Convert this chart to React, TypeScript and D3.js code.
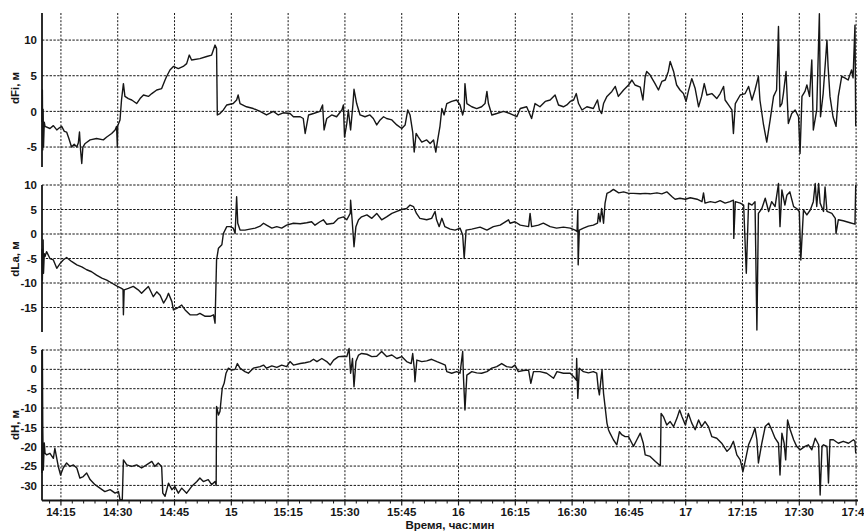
import React from 'react';
import * as d3 from 'd3';

// Time axis: minutes after 14:10
const START_LABEL = '14:10';
const timeTickLabels = ['14:15', '14:30', '14:45', '15', '15:15', '15:30', '15:45', '16', '16:15', '16:30', '16:45', '17', '17:15', '17:30', '17:45'];
const xAxisTitle = 'Время, час:мин';

const dfiTicks = [10, 5, 0, -5];
const dlaTicks = [10, 5, 0, -5, -10, -15];
const dhTicks = [5, 0, -5, -10, -15, -20, -25, -30];

const panelLabels = ['dFi, м', 'dLa, м', 'dH, м'];

// [minutes after 14:10, value]
const dfiData: [number, number][] = [
  [0.0, -1.5], [0.1, 3.0], [0.2, -5.4], [0.3, 0.3], [0.4, -5.0], [0.6, -1.5], [0.8, -2.1], [2.1, -2.4], [3.0, -2.0], [3.9, -2.6],
  [4.6, -2.3], [5.2, -2.1], [5.9, -2.8], [6.5, -2.9], [7.1, -3.8], [7.8, -5.0], [8.5, -4.6], [9.2, -5.0], [9.6, -4.4], [9.9, -2.9],
  [10.2, -5.5], [10.5, -7.3], [10.8, -5.0], [11.4, -4.5], [12.7, -4.0], [14.4, -3.8], [16.2, -4.0], [17.1, -3.6], [18.4, -3.1], [19.3, -2.6],
  [19.7, -2.1], [19.9, -5.0], [20.0, -2.0], [20.6, -1.2], [21.0, 1.6], [21.5, 3.9], [21.9, 2.1], [22.8, 1.8], [23.7, 1.6], [25.0, 1.1],
  [25.9, 1.8], [26.8, 2.3], [28.1, 2.1], [29.0, 2.5], [30.3, 3.0], [31.6, 3.2], [32.5, 4.4], [32.9, 4.9], [33.8, 5.8], [34.7, 6.3],
  [36.0, 6.0], [37.3, 6.3], [38.2, 6.7], [38.9, 7.9], [39.5, 7.2], [41.7, 7.4], [43.5, 7.7], [44.8, 7.9], [45.7, 9.3], [46.1, 8.8],
  [46.3, -0.5], [47.0, -0.3], [47.9, 0.2], [48.8, 0.9], [50.5, 1.1], [51.4, 1.6], [51.8, 2.3], [52.3, 1.1], [54.0, 0.65], [55.8, 0.4],
  [57.6, 0.0], [59.3, -0.5], [61.1, 0.0], [62.4, -0.5], [63.7, -0.2], [65.5, -0.3], [66.4, -0.75], [68.2, -0.75], [69.0, -1.0], [69.5, -3.1],
  [70.4, -0.5], [71.7, -0.3], [73.4, 0.0], [74.1, 0.9], [74.5, -2.6], [75.2, -1.0], [76.5, -0.5], [77.8, -0.75], [79.2, 0.2], [79.6, 0.9],
  [79.9, -3.6], [80.5, -1.7], [80.9, 0.2], [81.5, -2.6], [82.1, 0.9], [82.4, 3.1], [83.1, 1.1], [84.0, -0.5], [85.3, -0.75], [86.6, -0.5],
  [87.5, -1.0], [88.4, -1.9], [89.3, -1.2], [90.2, -0.75], [91.0, -1.0], [92.4, -1.2], [93.7, -1.9], [95.0, -2.4], [95.9, -1.9], [96.6, 0.2],
  [97.2, -0.5], [97.9, -2.9], [98.3, -5.7], [98.8, -3.1], [99.4, -3.6], [100.3, -4.3], [101.6, -4.0], [102.5, -4.5], [103.4, -4.0], [104.0, -5.7],
  [104.5, -4.0], [105.1, -2.1], [105.6, 0.4], [106.2, -0.5], [106.9, 1.1], [108.2, 1.4], [109.5, 1.6], [110.4, 0.9], [111.1, -0.5], [111.5, 0.4],
  [111.7, 3.9], [112.2, 1.1], [113.5, 0.65], [114.8, 0.4], [116.1, 0.65], [117.0, 1.1], [117.5, 2.8], [117.9, 1.1], [118.8, -0.5], [120.1, -0.3],
  [121.9, 0.0], [123.6, -0.3], [125.4, -0.75], [126.3, 0.4], [128.0, 0.65], [129.3, -1.0], [130.2, 1.1], [131.5, 0.65], [132.9, 1.4], [134.2, 1.6],
  [135.5, 2.3], [136.4, 0.9], [137.7, 0.65], [138.6, 0.9], [139.5, 1.4], [140.4, 1.6], [141.1, 2.5], [141.7, 1.1], [142.6, 0.2], [143.9, 0.65],
  [145.6, 0.4], [146.7, 1.6], [147.2, 0.2], [147.8, -0.3], [148.3, 1.1], [149.2, 2.1], [150.5, 2.8], [151.4, 3.5], [152.2, 2.1], [153.6, 3.0],
  [154.9, 3.7], [155.8, 4.4], [156.6, 3.7], [158.0, 3.4], [158.7, 1.6], [159.3, 4.9], [159.7, 5.6], [160.6, 5.1], [161.9, 3.9], [162.8, 3.0],
  [163.7, 4.2], [164.6, 4.4], [165.4, 5.6], [165.9, 7.0], [166.8, 5.6], [167.6, 3.7], [168.5, 3.0], [169.4, 2.5], [170.1, 1.4], [170.7, 2.8],
  [171.6, 4.6], [172.5, 3.2], [173.4, 0.65], [174.2, 2.1], [174.9, 3.9], [175.6, 2.3], [176.9, 2.5], [178.2, 1.8], [179.1, 2.5], [180.0, 3.5],
  [180.4, 1.6], [181.3, 0.9], [182.2, 0.2], [182.6, -3.1], [183.1, 1.1], [184.4, 2.3], [185.7, 2.5], [186.6, 3.5], [187.5, 1.6], [188.3, 3.0],
  [189.2, 4.9], [189.6, 1.6], [190.5, -1.7], [191.4, -4.3], [192.3, -1.2], [193.2, 2.1], [194.0, 3.0], [194.5, 11.9], [194.9, 0.65], [195.4, 1.1],
  [195.8, 2.5], [196.5, 5.6], [197.1, -1.7], [198.0, -0.3], [198.9, 0.2], [199.8, -0.75], [200.2, -5.9], [200.7, 2.1], [201.5, 2.8], [202.0, 3.7],
  [202.7, 2.1], [203.3, 7.2], [203.7, -2.6], [204.6, 0.2], [205.3, 13.7], [205.6, -0.75], [206.3, 2.5], [207.3, 10.0], [207.6, 6.3], [208.1, 2.1],
  [208.9, -0.75], [209.7, -2.1], [210.3, 2.1], [211.2, 4.9], [212.0, 4.7], [212.9, 4.4], [213.8, 5.8], [214.2, 4.7], [214.7, 12.1], [214.9, -2.1],
];

const dlaData: [number, number][] = [
  [0.0, -3.0], [0.1, -9.4], [0.3, -1.2], [0.4, -8.0], [0.6, -4.0], [0.8, -4.6], [1.2, -3.6], [2.1, -5.0], [3.0, -5.3], [3.9, -7.0],
  [4.8, -6.0], [5.6, -5.3], [6.5, -4.8], [7.8, -5.6], [9.2, -6.3], [10.5, -6.7], [11.8, -7.3], [13.1, -7.7], [14.4, -8.4], [15.8, -9.0],
  [17.1, -9.4], [18.4, -10.0], [19.7, -10.6], [21.0, -11.1], [21.4, -11.3], [21.5, -16.5], [21.7, -11.4], [22.8, -11.1], [24.1, -10.7], [25.4, -11.4],
  [26.3, -12.1], [27.2, -11.4], [28.1, -10.7], [29.4, -12.8], [30.3, -11.8], [31.2, -12.5], [32.1, -14.1], [32.9, -13.1], [33.4, -12.1], [34.3, -13.8],
  [34.7, -15.5], [35.6, -15.2], [36.9, -14.5], [37.8, -15.5], [39.1, -16.5], [40.9, -16.5], [41.7, -16.2], [43.1, -16.8], [44.4, -16.8], [45.3, -16.5],
  [45.7, -18.2], [46.1, -5.3], [46.6, -2.9], [47.5, -2.2], [47.9, 0.1], [48.8, 1.5], [49.7, 1.5], [50.5, 1.2], [51.0, 0.1], [51.4, 7.6],
  [51.7, 2.2], [52.3, 0.8], [53.6, 0.8], [54.9, 1.0], [56.3, 1.2], [57.6, 1.6], [58.5, 2.2], [59.3, 1.8], [60.7, 1.2], [62.0, 1.5],
  [63.3, 1.2], [64.6, 1.8], [66.4, 2.2], [68.2, 2.1], [69.9, 2.3], [71.2, 2.5], [72.1, 1.8], [73.4, 2.5], [74.3, 2.9], [75.2, 2.0],
  [77.0, 2.2], [78.3, 3.2], [79.6, 3.5], [80.5, 2.9], [81.4, 4.2], [81.5, 6.9], [81.9, 2.9], [82.4, -2.6], [82.9, 1.5], [83.6, 2.9],
  [84.4, 3.5], [85.8, 3.9], [87.1, 3.2], [88.4, 4.2], [89.7, 2.9], [91.0, 3.5], [92.4, 4.2], [93.7, 4.6], [95.0, 5.0], [96.3, 5.2],
  [97.2, 5.9], [98.1, 5.6], [98.9, 4.2], [99.8, 3.2], [101.6, 2.9], [102.9, 3.2], [103.8, 4.6], [104.2, 2.9], [104.9, 1.5], [105.6, 3.2],
  [106.4, 1.5], [107.8, 1.0], [109.1, 0.8], [110.4, 1.2], [111.1, -0.2], [111.5, -5.0], [112.0, 0.8], [113.5, 1.0], [115.7, 1.4], [117.5, 0.8],
  [119.2, 1.5], [121.0, 1.8], [123.2, 2.9], [123.6, 2.2], [124.9, 2.5], [126.3, 1.8], [128.5, 1.5], [128.9, 4.2], [129.3, 1.5], [131.1, 1.8],
  [132.4, 2.2], [134.2, 1.5], [135.9, 1.2], [137.7, 1.4], [139.5, 1.2], [140.8, 0.8], [141.3, 0.5], [141.5, 4.9], [141.6, -6.3], [141.9, 0.8],
  [143.0, 1.2], [144.3, 1.6], [145.6, 1.8], [146.7, 2.2], [147.0, 4.2], [147.4, 2.5], [147.8, 5.2], [148.3, 2.2], [148.7, 6.3], [149.2, 8.3],
  [150.0, 8.6], [150.9, 9.1], [152.3, 8.4], [153.6, 8.6], [154.9, 8.3], [156.2, 8.3], [158.0, 8.2], [159.3, 8.3], [160.6, 8.2], [162.4, 8.4],
  [163.7, 8.2], [165.0, 8.6], [166.4, 7.6], [167.2, 7.1], [168.5, 7.3], [169.9, 7.1], [171.2, 7.4], [173.0, 7.1], [174.3, 6.6], [174.7, 8.4],
  [175.1, 6.3], [176.5, 6.6], [177.8, 6.4], [179.1, 6.8], [180.4, 6.3], [181.7, 6.6], [182.6, 6.9], [182.7, -0.9], [183.1, 6.6], [184.4, 6.3],
  [185.3, 5.9], [186.0, -8.0], [186.6, 6.3], [187.5, 5.9], [188.3, 6.6], [188.8, -19.6], [189.2, 4.2], [190.1, 5.2], [191.0, 7.3], [191.9, 4.6],
  [192.7, 6.6], [193.6, 5.6], [194.5, 10.3], [194.9, 1.5], [195.4, 9.0], [196.2, 5.9], [196.7, 7.9], [197.5, 8.6], [198.5, 5.6], [199.3, 5.2],
  [200.0, 4.6], [200.4, -5.3], [201.1, 4.9], [202.0, 3.9], [202.9, 4.9], [203.7, 6.6], [204.2, 10.3], [204.6, 5.6], [205.1, 10.3], [205.5, 6.3],
  [206.4, 4.6], [206.8, 9.6], [207.3, 4.6], [208.6, 4.2], [209.5, 3.2], [209.7, 0.1], [210.3, 2.9], [211.6, 2.7], [213.4, 2.3], [214.7, 2.0],
  [214.9, 10.0],
];

const dhData: [number, number][] = [
  [0.0, -26.8], [0.1, 5.0], [0.2, -14.8], [0.35, -26.0], [0.6, -19.0], [0.8, -21.7], [1.2, -22.1], [2.1, -21.7], [3.0, -23.0], [3.4, -20.4],
  [3.9, -23.0], [4.3, -25.1], [4.9, -27.3], [5.6, -25.5], [6.5, -24.2], [7.4, -25.1], [8.3, -24.7], [9.2, -25.5], [10.0, -28.1], [10.9, -27.7],
  [11.8, -26.8], [12.7, -28.5], [14.0, -29.8], [15.3, -30.7], [16.6, -31.6], [18.0, -31.1], [19.3, -32.0], [20.2, -31.6], [20.6, -33.7], [21.2, -33.7],
  [21.5, -23.4], [22.4, -24.7], [23.7, -25.1], [25.0, -24.7], [26.3, -25.5], [27.6, -24.7], [29.0, -23.8], [29.8, -25.1], [30.7, -24.2], [31.6, -25.1],
  [31.9, -32.0], [32.5, -32.8], [33.4, -29.4], [34.3, -31.1], [35.1, -30.3], [36.0, -32.0], [36.9, -30.7], [38.2, -32.0], [39.5, -30.3], [40.9, -29.0],
  [41.7, -28.1], [42.6, -29.0], [43.9, -28.5], [44.8, -29.8], [45.7, -29.0], [46.0, -30.0], [46.1, -9.6], [46.6, -11.8], [47.0, -10.9], [47.6, -4.9],
  [48.1, -3.6], [48.6, -1.0], [49.2, 0.3], [50.1, -0.2], [51.0, 0.0], [51.6, 1.5], [52.3, 0.3], [53.6, -0.6], [54.5, -1.0], [55.8, 0.3],
  [57.6, 0.7], [58.5, 1.1], [59.3, 0.3], [60.7, 0.9], [62.0, 0.5], [63.3, 1.1], [64.6, 0.7], [65.5, 2.0], [66.4, 1.1], [68.2, 1.5],
  [69.5, 1.7], [70.8, 2.0], [71.7, 2.6], [72.6, 2.0], [73.9, 2.8], [75.2, 2.0], [76.1, 1.1], [77.0, 2.4], [78.3, 3.3], [79.6, 3.4],
  [80.5, 3.3], [81.1, 5.4], [81.5, -1.0], [82.0, 2.8], [82.4, -4.5], [82.9, 2.0], [83.6, 3.7], [84.4, 4.1], [85.8, 3.9], [87.1, 3.3],
  [88.4, 3.4], [89.7, 4.6], [91.0, 3.3], [92.4, 3.7], [93.7, 2.8], [95.0, 3.3], [96.3, 2.0], [97.5, 1.5], [97.9, 4.1], [98.3, 0.3],
  [98.5, -3.2], [99.0, 2.4], [100.3, 2.0], [101.6, 2.2], [102.9, 2.6], [104.3, 2.0], [105.6, 1.5], [106.5, 1.1], [106.9, -0.6], [108.2, -1.0],
  [109.5, -0.6], [110.4, -1.0], [111.1, 4.6], [111.3, -1.9], [111.7, -10.5], [112.2, -1.5], [113.5, -0.6], [114.8, -0.9], [116.1, -1.0], [117.5, -0.6],
  [118.8, 0.3], [120.1, 0.7], [121.4, 1.5], [122.7, 0.7], [124.1, 0.5], [124.9, 1.1], [125.8, -0.6], [127.1, -0.3], [128.5, -0.2], [129.1, -3.6],
  [129.8, -0.6], [131.5, -0.6], [133.3, -1.0], [135.1, -2.3], [136.0, -0.6], [137.7, -1.0], [139.5, -1.0], [140.4, -1.9], [141.1, -2.8], [141.2, 2.8],
  [141.5, -7.5], [141.9, 0.3], [143.0, -0.6], [144.3, -0.9], [145.6, -0.6], [146.5, -1.0], [146.9, -4.9], [147.2, -6.6], [147.6, -2.8], [147.9, -0.2],
  [148.3, -6.2], [148.7, -9.6], [149.2, -13.9], [149.6, -15.6], [150.0, -16.5], [150.9, -18.2], [151.8, -19.5], [152.5, -16.1], [153.1, -16.9], [154.0, -17.4],
  [154.9, -17.4], [155.8, -19.1], [156.2, -19.9], [157.1, -18.2], [158.0, -16.5], [158.8, -19.1], [159.3, -22.1], [160.6, -22.5], [162.0, -23.8], [163.3, -24.9],
  [163.5, -11.4], [164.1, -12.2], [165.0, -14.4], [165.9, -13.5], [166.8, -14.8], [167.7, -12.6], [168.4, -10.5], [169.0, -12.2], [169.9, -14.4], [170.7, -11.4],
  [171.6, -13.9], [172.5, -15.6], [173.4, -13.1], [174.2, -14.8], [175.1, -13.5], [176.0, -14.8], [176.9, -17.4], [178.2, -17.8], [179.5, -19.1], [180.9, -21.2],
  [181.7, -20.4], [182.6, -18.6], [183.5, -22.1], [184.4, -23.4], [185.1, -26.5], [185.7, -23.8], [186.6, -19.5], [187.5, -17.4], [188.3, -15.2], [188.8, -18.2],
  [189.2, -24.2], [190.1, -19.1], [191.0, -14.8], [191.9, -13.9], [192.7, -15.6], [193.6, -17.8], [194.5, -19.1], [194.9, -27.3], [195.4, -16.5], [196.0, -19.1],
  [196.4, -23.4], [196.9, -13.1], [197.6, -15.6], [198.5, -18.2], [199.3, -19.9], [200.2, -20.8], [201.5, -19.9], [202.4, -19.5], [203.3, -20.8], [204.2, -17.8],
  [205.1, -19.5], [205.5, -32.5], [206.0, -19.9], [206.4, -19.5], [207.3, -19.9], [207.7, -29.4], [208.1, -18.2], [209.0, -18.2], [210.3, -19.1], [211.6, -18.6],
  [213.0, -19.1], [214.3, -18.2], [214.7, -18.6], [214.9, -21.7],
];

const toMinutesAfterStart = (label: string) => {
  const [h, m] = label.split(':').map(Number);
  const [sh, sm] = START_LABEL.split(':').map(Number);
  return (h * 60 + (m || 0)) - (sh * 60 + sm);
};

const W = 864;
const H = 531;
const LEFT = 42;
const RIGHT = 858;
const AXIS_Y = 500.5;
const FONT = '"Liberation Sans", Arial, Helvetica, sans-serif';
const INK = '#161616';

export default function App() {
  const x = d3.scaleLinear().domain([0, 215.5]).range([LEFT, RIGHT]);

  const panels = [
    { label: panelLabels[0], data: dfiData, ticks: dfiTicks, y: d3.scaleLinear().domain([-7.8, 13.8]).range([167, 13]), labelY: 88 },
    { label: panelLabels[1], data: dlaData, ticks: dlaTicks, y: d3.scaleLinear().domain([-20, 10]).range([332, 185]), labelY: 259 },
    { label: panelLabels[2], data: dhData, ticks: dhTicks, y: d3.scaleLinear().domain([-33.9, 5]).range([AXIS_Y, 350]), labelY: 425 },
  ];

  const majorTicks = timeTickLabels.map((l) => ({ label: l, t: toMinutesAfterStart(l) }));
  const minorTicks = d3.range(2, 216, 3).filter((t) => (t - 5) % 15 !== 0);

  return (
    <svg width={W} height={H} style={{ position: 'absolute', left: 0, top: 0, background: '#fff' }} fontFamily={FONT}>
      <rect x={0} y={0} width={W} height={H} fill="#fff" />
      {majorTicks.map((d) => (
        <line key={'vg' + d.label} x1={x(d.t)} x2={x(d.t)} y1={13} y2={AXIS_Y} stroke={INK} strokeWidth={1} strokeDasharray="2,1.6" />
      ))}
      {panels.map((p, i) => {
        const line = d3.line<[number, number]>().x((d) => x(d[0])).y((d) => p.y(d[1]));
        const [y0, y1] = p.y.range();
        return (
          <g key={'p' + i}>
            {p.ticks.map((v) => (
              <g key={'h' + v}>
                <line x1={LEFT} x2={RIGHT} y1={p.y(v)} y2={p.y(v)} stroke={INK} strokeWidth={1} strokeDasharray="2.4,1.4" />
                <text x={37} y={p.y(v)} dy="0.36em" textAnchor="end" fontSize={11.5} fontWeight="bold" fill={INK}>{String(v)}</text>
              </g>
            ))}
            <path d={line(p.data) || ''} fill="none" stroke={INK} strokeWidth={1.4} strokeLinejoin="round" />
            <line x1={LEFT} x2={LEFT} y1={y1} y2={y0} stroke={INK} strokeWidth={1.8} />
            <text transform={`translate(15,${p.labelY}) rotate(-90)`} textAnchor="middle" dy="0.35em" fontSize={11.5} fontWeight="bold" fill={INK}>{p.label}</text>
          </g>
        );
      })}
      <line x1={LEFT} x2={RIGHT} y1={AXIS_Y} y2={AXIS_Y} stroke={INK} strokeWidth={2} />
      {minorTicks.map((t) => (
        <line key={'mt' + t} x1={x(t)} x2={x(t)} y1={AXIS_Y} y2={AXIS_Y + 3} stroke={INK} strokeWidth={1} />
      ))}
      {majorTicks.map((d) => (
        <g key={'xt' + d.label}>
          <line x1={x(d.t)} x2={x(d.t)} y1={AXIS_Y} y2={AXIS_Y + 5} stroke={INK} strokeWidth={1.2} />
          <text x={x(d.t)} y={515.5} textAnchor="middle" fontSize={11.5} fontWeight="bold" fill={INK}>{d.label}</text>
        </g>
      ))}
      <text x={(LEFT + RIGHT) / 2} y={529} textAnchor="middle" fontSize={11.5} fontWeight="bold" fill={INK}>{xAxisTitle}</text>
    </svg>
  );
}
